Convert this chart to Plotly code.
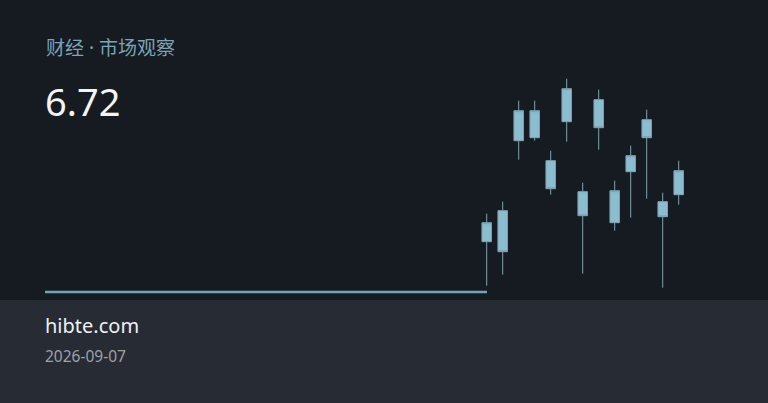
import plotly.graph_objects as go

# candle data (index 0..12)
idx = list(range(13))
open_ = [6.01, 6.32, 7.02, 7.05, 6.82, 7.21, 6.51, 7.43, 6.20, 6.71, 7.23, 6.41, 6.48]
high = [6.29, 6.41, 7.42, 7.42, 6.92, 7.64, 6.60, 7.53, 6.62, 6.97, 7.33, 6.50, 6.82]
low = [5.57, 5.68, 6.83, 7.02, 6.48, 7.01, 5.69, 6.93, 6.12, 6.25, 6.44, 5.55, 6.38]
close = [6.20, 5.91, 7.32, 7.32, 6.54, 7.54, 6.27, 7.15, 6.52, 6.87, 7.05, 6.26, 6.72]

title_text = "财经 · 市场观察"
value_text = "6.72"
site_text = "hibte.com"
date_text = "2026-09-07"

W, H = 768, 403
BG = "#161a21"
BAND = "#272b34"
CANDLE = "#8bbdd0"
WICK = "#7fa3b1"

fig = go.Figure()
fig.add_trace(go.Candlestick(
    x=idx, open=open_, high=high, low=low, close=close,
    increasing=dict(line=dict(color=WICK, width=1), fillcolor=CANDLE),
    decreasing=dict(line=dict(color=WICK, width=1), fillcolor=CANDLE),
    whiskerwidth=0, showlegend=False, hoverinfo="skip",
))

# pixel mapping: 16 px per candle, first candle at x=486.7, y: 100 px per unit
x0 = -486.7 / 16
fig.update_xaxes(range=[x0, x0 + W / 16], visible=False, rangeslider_visible=False,
                 fixedrange=True)
fig.update_yaxes(range=[6.72 - (H - 170.7) / 100, 6.72 + 170.7 / 100], visible=False,
                 fixedrange=True)

# footer band + baseline
fig.add_shape(type="rect", xref="paper", yref="paper", x0=0, x1=1, y0=0, y1=1 - 300 / H,
              fillcolor=BAND, line_width=0, layer="below")
fig.add_shape(type="line", xref="paper", yref="paper", x0=45 / W, x1=487 / W,
              y0=1 - 292 / H, y1=1 - 292 / H, line=dict(color="#6fa6b2", width=2.5))

fonts = "Noto Sans, Noto Sans CJK SC, sans-serif"
fig.add_annotation(x=44 / W, y=1 - 48 / H, xref="paper", yref="paper", text=title_text,
                   showarrow=False, xanchor="left", yanchor="middle",
                   font=dict(family=fonts, size=19, color="#7aa5b6"))
fig.add_annotation(x=43 / W, y=1 - 101 / H, xref="paper", yref="paper", text=value_text,
                   showarrow=False, xanchor="left", yanchor="middle",
                   font=dict(family=fonts, size=38, color="#f2f4f6"))
fig.add_annotation(x=43 / W, y=1 - 325 / H, xref="paper", yref="paper", text=site_text,
                   showarrow=False, xanchor="left", yanchor="middle",
                   font=dict(family=fonts, size=20, color="#eef0f3"))
fig.add_annotation(x=43 / W, y=1 - 356 / H, xref="paper", yref="paper", text=date_text,
                   showarrow=False, xanchor="left", yanchor="middle",
                   font=dict(family=fonts, size=15.5, color="#9ea2a9"))

fig.update_layout(width=W, height=H, margin=dict(l=0, r=0, t=0, b=0),
                  paper_bgcolor=BG, plot_bgcolor=BG, boxgap=0.15)
fig.write_html("out.html", config={"displayModeBar": False},
               post_script="document.body.style.margin='0';")
